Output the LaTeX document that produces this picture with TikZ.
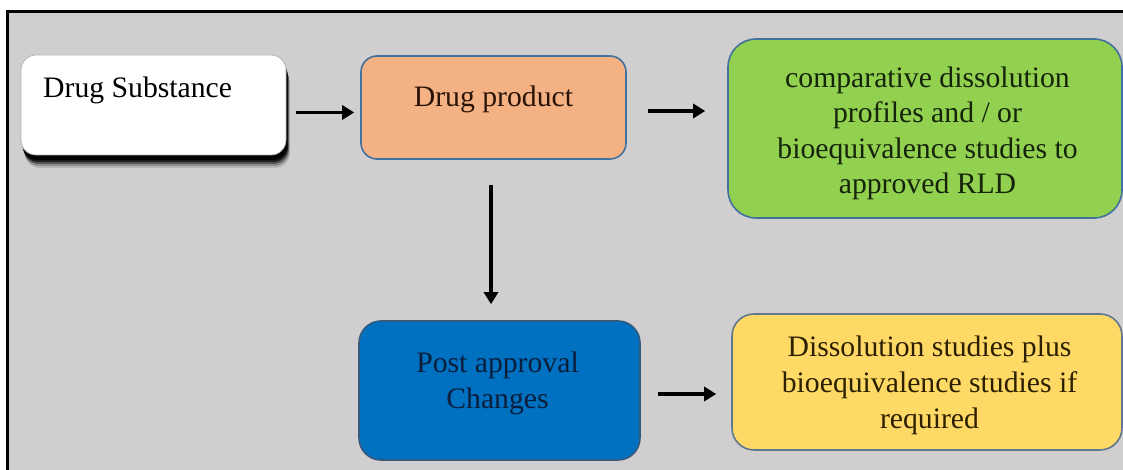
\documentclass[tikz,border=0pt]{standalone}
\usepackage{fontspec}
\setmainfont{Liberation Serif}
\usetikzlibrary{arrows.meta}
\definecolor{bggray}{HTML}{D0CECE}
\definecolor{boxline}{HTML}{41719C}
\definecolor{dpfill}{HTML}{F4B183}
\definecolor{grfill}{HTML}{92D050}
\definecolor{blfill}{HTML}{0070C0}
\definecolor{ylfill}{HTML}{FFD966}
\definecolor{dptext}{HTML}{2A1408}
\definecolor{grtext}{HTML}{15240A}
\definecolor{bltext}{HTML}{0B1E3C}
\definecolor{yltext}{HTML}{2D2000}
\tikzset{
  box/.style={draw=boxline, line width=1.6pt, minimum width=#1, inner sep=0pt},
  lbl/.style={font=\fontsize{29.7}{35.6}\selectfont, inner sep=0pt, align=center},
  conn/.style={line width=3.8pt, -{Triangle[length=12pt,width=14pt]}, black},
}
\begin{document}
\begin{tikzpicture}[x=1pt,y=-1pt]
\useasboundingbox (0,0) rectangle (1123,470);
\fill[white] (0,0) rectangle (1123,470);
\fill[bggray] (7.5,12) rectangle (1123,470);
\draw[line width=3pt, black] (7.5,470) -- (7.5,12) -- (1123,12);
% drug substance shadow
\foreach \o/\a in {13/0.12,11/0.22,9/0.4,7/0.65,5/0.9}{
  \fill[black, opacity=\a, rounded corners=15pt] (21+0.3*\o,55+\o) rectangle (286+0.3*\o,155+\o);
}
\node[draw=gray!60, line width=0.8pt, fill=white, rounded corners=15pt, minimum width=265pt, minimum height=100pt, inner sep=0pt] (ds) at (153.5,105) {};
\node[box=265pt, fill=dpfill, rounded corners=16pt, minimum height=103pt] (dp) at (493.5,107.5) {};
\node[box=394pt, fill=grfill, rounded corners=28pt, minimum height=179pt] (gr) at (925,128.5) {};
\node[box=281pt, draw=boxline!80!black, fill=blfill, rounded corners=22pt, minimum height=139pt] (pa) at (499.5,390.5) {};
\node[box=390pt, draw=gray!50!boxline, fill=ylfill, rounded corners=22pt, minimum height=136pt] (yl) at (927,382) {};
% texts (base anchor = last line's baseline)
\node[lbl, anchor=base west] (dst) at (43,98) {Drug Substance};
\node[lbl, anchor=base, text=dptext] (dpt) at (493.5,107) {Drug product};
\node[lbl, anchor=base, text=grtext] (grt) at (927.5,194) {comparative dissolution\\profiles and / or\\bioequivalence studies to\\approved RLD};
\node[lbl, anchor=base, text=bltext] (pat) at (497.5,408) {Post approval\\Changes};
\node[lbl, anchor=base, text=yltext] (ylt) at (929.5,428) {Dissolution studies plus\\bioequivalence studies if\\required};
% connectors
\draw[conn] ([xshift=10pt,yshift=-7.5pt]ds.east) -- ([xshift=-6pt,yshift=-5pt]dp.west);
\draw[conn] ([xshift=21pt,yshift=-3.5pt]dp.east) -- ([xshift=-22pt,yshift=17.5pt]gr.west);
\draw[conn] ([xshift=-2.5pt,yshift=-25pt]dp.south) -- ([xshift=-8.5pt,yshift=16pt]pa.north);
\draw[conn] ([xshift=17pt,yshift=-3.5pt]pa.east) -- ([xshift=-15pt,yshift=-12pt]yl.west);
\end{tikzpicture}
\end{document}
